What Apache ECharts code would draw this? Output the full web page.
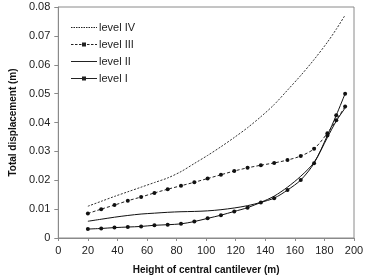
<!DOCTYPE html>
<html>
<head>
<meta charset="utf-8">
<script src="https://cdn.jsdelivr.net/npm/echarts@6/dist/echarts.min.js"></script>
<style>html,body{margin:0;padding:0;background:#fff}#c{width:374px;height:280px}</style>
</head>
<body>
<div id="c"></div>
<script>
const heights = [20, 29, 38, 47, 56, 65, 74, 83, 92, 101, 110, 119, 128, 137, 146, 155, 164, 173, 182, 188, 194];
const levelIV  = [0.0110, 0.0127, 0.0144, 0.0160, 0.0176, 0.0192, 0.0208, 0.0230, 0.0258, 0.0286, 0.0316, 0.0348, 0.0382, 0.0420, 0.0462, 0.0512, 0.0563, 0.0618, 0.0678, 0.0723, 0.0772];
const levelIII = [0.0085, 0.0100, 0.0114, 0.0129, 0.0142, 0.0156, 0.0169, 0.0181, 0.0193, 0.0206, 0.0219, 0.0232, 0.0243, 0.0252, 0.0260, 0.0270, 0.0284, 0.0309, 0.0363, 0.0408, 0.0455];
const levelII  = [0.0058, 0.0065, 0.0072, 0.0078, 0.0083, 0.0086, 0.0089, 0.0091, 0.0092, 0.0094, 0.0098, 0.0104, 0.0112, 0.0124, 0.0145, 0.0176, 0.0214, 0.0262, 0.0348, 0.0405, 0.0450];
const levelI   = [0.0031, 0.0033, 0.0036, 0.0038, 0.0040, 0.0044, 0.0046, 0.0049, 0.0057, 0.0068, 0.0079, 0.0092, 0.0105, 0.0123, 0.0138, 0.0166, 0.0201, 0.0259, 0.0355, 0.0425, 0.0500];
const seriesNames = ['level IV', 'level III', 'level II', 'level I'];
const xTicks = {min: 0, max: 200, interval: 20};
const yTicks = {min: 0, max: 0.08, interval: 0.01};

const FONT = '"Liberation Sans Narrow", "Liberation Sans", Arial, sans-serif';
const pair = arr => heights.map((h, i) => [h, arr[i]]);

// legend icon paths (26 x 10 box): horizontal line, optionally dashed, optionally with a centre marker
function iconPath(dash, gap, marker) {
  let p = '';
  if (!dash) {
    p += 'M0,4.5L26,4.5L26,5.5L0,5.5Z';
  } else {
    for (let x = 0; x < 26; x += dash + gap) {
      const e = Math.min(26, x + dash);
      p += 'M' + x + ',4.5L' + e + ',4.5L' + e + ',5.5L' + x + ',5.5Z';
    }
  }
  if (marker) p += 'M11,3L15,3L15,7L11,7Z';
  p += 'M0,0L0.01,0L0.01,0.01Z M26,10L25.99,10L25.99,9.99Z';
  return 'path://' + p;
}

const chart = echarts.init(document.getElementById('c'), null, {renderer: 'canvas'});
chart.setOption({
  animation: false,
  backgroundColor: '#fff',
  grid: {left: 46, right: 20, top: 7, bottom: 41, show: true, borderColor: '#8a8a8a', borderWidth: 1},
  legend: {
    orient: 'vertical', left: 66, top: 17, itemWidth: 26, itemHeight: 10, itemGap: 6,
    data: [
      {name: seriesNames[0], icon: iconPath(1.5, 1, false)},
      {name: seriesNames[1], icon: iconPath(2.5, 1.5, true)},
      {name: seriesNames[2], icon: iconPath(0, 0, false)},
      {name: seriesNames[3], icon: iconPath(0, 0, true)}
    ],
    itemStyle: {color: '#222', borderWidth: 0},
    textStyle: {fontFamily: FONT, fontSize: 11, color: '#222', padding: [0, 0, 0, -3]}
  },
  xAxis: {
    type: 'value', min: xTicks.min, max: xTicks.max, interval: xTicks.interval,
    name: 'Height of central cantilever (m)', nameLocation: 'middle', nameGap: 27,
    nameTextStyle: {fontFamily: FONT, fontSize: 10, fontWeight: 'bold', color: '#111'},
    axisLine: {lineStyle: {color: '#8a8a8a'}},
    axisTick: {show: true, length: 3, lineStyle: {color: '#8a8a8a'}},
    axisLabel: {fontFamily: FONT, fontSize: 11, color: '#222', margin: 7},
    splitLine: {show: false}
  },
  yAxis: {
    type: 'value', min: yTicks.min, max: yTicks.max, interval: yTicks.interval,
    name: 'Total displacement (m)', nameLocation: 'middle', nameGap: 36,
    nameTextStyle: {fontFamily: FONT, fontSize: 10, fontWeight: 'bold', color: '#111'},
    axisLine: {show: true, lineStyle: {color: '#8a8a8a'}},
    axisTick: {show: true, length: 4, lineStyle: {color: '#8a8a8a'}},
    axisLabel: {fontFamily: FONT, fontSize: 11, color: '#222', margin: 8,
      formatter: v => (v === 0 ? '0' : v.toFixed(2))},
    splitLine: {show: false}
  },
  series: [
    {name: 'level IV', type: 'line', data: pair(levelIV), smooth: 0.3, showSymbol: false, symbol: 'none',
      lineStyle: {color: '#333', width: 1, type: [2, 1.5]}, itemStyle: {color: '#333'}},
    {name: 'level III', type: 'line', data: pair(levelIII), smooth: 0.3, symbol: 'circle', symbolSize: 4,
      lineStyle: {color: '#222', width: 1, type: [3, 2]}, itemStyle: {color: '#111'}},
    {name: 'level II', type: 'line', data: pair(levelII), smooth: 0.3, showSymbol: false, symbol: 'none',
      lineStyle: {color: '#111', width: 1}, itemStyle: {color: '#111'}},
    {name: 'level I', type: 'line', data: pair(levelI), smooth: 0.3, symbol: 'circle', symbolSize: 4,
      lineStyle: {color: '#111', width: 1}, itemStyle: {color: '#111'}}
  ]
});
</script>
</body>
</html>
